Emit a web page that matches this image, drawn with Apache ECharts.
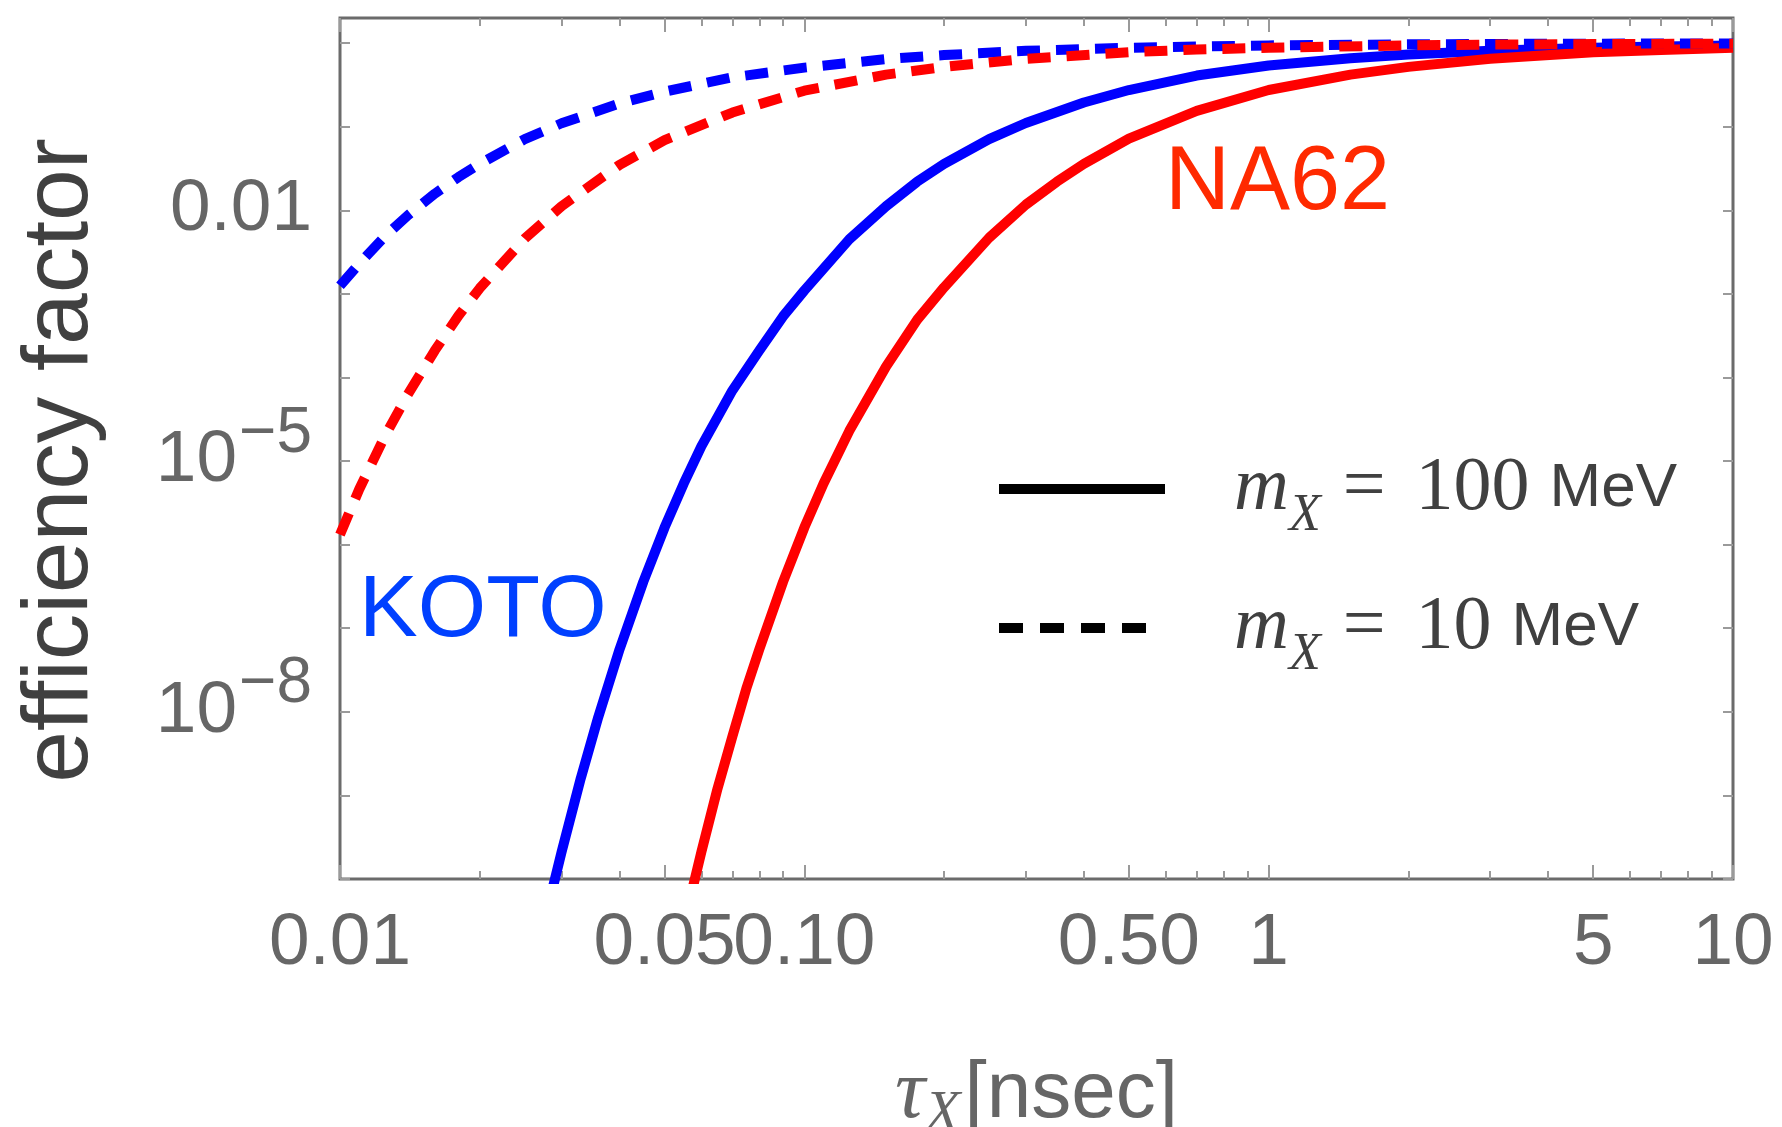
<!DOCTYPE html>
<html>
<head>
<meta charset="utf-8">
<script src="https://cdn.jsdelivr.net/npm/echarts@6/dist/echarts.min.js"></script>
<style>
  html, body { margin: 0; padding: 0; background: #ffffff; }
  #chart { width: 1782px; height: 1127px; }
</style>
</head>
<body>
<div id="chart"></div>
<script>
// Efficiency factor vs. lifetime tau_X (nsec), KOTO and NA62, for m_X = 100 MeV and 10 MeV.

// KOTO, m_X = 100 MeV (solid blue)
const tauKoto100 = [0.028, 0.03, 0.033, 0.036, 0.04, 0.045, 0.05, 0.055, 0.06, 0.07, 0.08, 0.09, 0.1, 0.125, 0.15, 0.175, 0.2, 0.25, 0.3, 0.4, 0.5, 0.7, 1, 1.5, 2, 3, 5, 7, 10];
const effKoto100 = [4.4e-11, 2.1e-10, 1.6e-9, 8.7e-9, 5.6e-8, 3.6e-7, 1.6e-6, 5.4e-6, 1.5e-5, 7.0e-5, 2.1e-4, 5.4e-4, 1.1e-3, 4.5e-3, 1.12e-2, 2.2e-2, 3.6e-2, 7.1e-2, 0.111, 0.195, 0.275, 0.41, 0.54, 0.66, 0.73, 0.81, 0.88, 0.91, 0.94];

// NA62, m_X = 100 MeV (solid red)
const tauNa62100 = [0.055, 0.06, 0.065, 0.07, 0.075, 0.08, 0.09, 0.1, 0.11, 0.125, 0.15, 0.175, 0.2, 0.25, 0.3, 0.35, 0.4, 0.5, 0.7, 1, 1.5, 2, 3, 5, 7, 10];
const effNa62100 = [2.8e-11, 2.1e-10, 1.2e-9, 5.1e-9, 1.9e-8, 5.6e-8, 3.6e-7, 1.6e-6, 5.4e-6, 2.3e-5, 1.35e-4, 4.9e-4, 1.2e-3, 4.7e-3, 1.17e-2, 2.2e-2, 3.6e-2, 7.2e-2, 0.155, 0.275, 0.42, 0.52, 0.65, 0.78, 0.83, 0.88];

// KOTO, m_X = 10 MeV (dashed blue)
const tauKoto10 = [0.01, 0.011, 0.0125, 0.014, 0.016, 0.018, 0.02, 0.025, 0.03, 0.04, 0.05, 0.07, 0.1, 0.15, 0.2, 0.3, 0.5, 0.7, 1, 2, 3, 5, 10];
const effKoto10 = [1.25e-3, 2.3e-3, 4.9e-3, 8.7e-3, 1.58e-2, 2.5e-2, 3.6e-2, 7.1e-2, 0.11, 0.19, 0.263, 0.39, 0.51, 0.645, 0.72, 0.81, 0.88, 0.91, 0.94, 0.968, 0.978, 0.986, 0.993];

// NA62, m_X = 10 MeV (dashed red)
const tauNa6210 = [0.01, 0.011, 0.0125, 0.014, 0.016, 0.018, 0.02, 0.025, 0.03, 0.04, 0.05, 0.07, 0.1, 0.15, 0.2, 0.3, 0.5, 0.7, 1, 2, 3, 5, 10];
const effNa6210 = [1.32e-6, 4.6e-6, 2.0e-5, 6.3e-5, 2.1e-4, 5.5e-4, 1.17e-3, 4.6e-3, 1.12e-2, 3.5e-2, 6.9e-2, 0.148, 0.27, 0.42, 0.52, 0.65, 0.78, 0.84, 0.88, 0.94, 0.96, 0.975, 0.987];

// Axis ticks and labels
const xMajorTicks = [0.01, 0.05, 0.1, 0.5, 1, 5, 10];
const xTickLabels = ['0.01', '0.05', '0.10', '0.50', '1', '5', '10'];
const xMinorTicks = [0.02, 0.03, 0.04, 0.06, 0.07, 0.08, 0.09, 0.2, 0.3, 0.4, 0.6, 0.7, 0.8, 0.9, 2, 3, 4, 6, 7, 8, 9];
const yTicks = [1e-10, 1e-9, 1e-8, 1e-7, 1e-6, 1e-5, 1e-4, 1e-3, 1e-2, 1e-1, 1];
const yLabelValues = [1e-8, 1e-5, 1e-2];

const SANS = '"Liberation Sans Narrow", "Liberation Sans", Arial, sans-serif';
const SERIF = '"Liberation Serif", "DejaVu Serif", serif';
const GREY = '#666666';
const TICK = '#9a9a9a';

const zip = (xs, ys) => xs.map((x, i) => [x, ys[i]]);

function xAxisBase(extra) {
  return Object.assign({
    type: 'log', logBase: 10, min: 0.01, max: 10, gridIndex: 0,
    axisLine: { show: false }, splitLine: { show: false },
    minorTick: { show: false }, minorSplitLine: { show: false },
    axisLabel: { show: false }
  }, extra);
}
function yAxisBase(extra) {
  return Object.assign({
    type: 'log', logBase: 10, min: 1e-10, max: 2, gridIndex: 0,
    axisLine: { show: false }, splitLine: { show: false },
    minorTick: { show: false }, minorSplitLine: { show: false },
    axisLabel: { show: false }
  }, extra);
}
const majorTick = { show: true, inside: true, length: 14, customValues: xMajorTicks, lineStyle: { color: TICK, width: 2 } };
const minorTickX = { show: true, inside: true, length: 8, customValues: xMinorTicks, lineStyle: { color: TICK, width: 2 } };
const yTick = { show: true, inside: true, length: 10, customValues: yTicks, lineStyle: { color: TICK, width: 2 } };

function xLabel(v) {
  let best = 0;
  xMajorTicks.forEach((t, i) => { if (Math.abs(Math.log10(t) - Math.log10(v)) < Math.abs(Math.log10(xMajorTicks[best]) - Math.log10(v))) best = i; });
  return xTickLabels[best];
}
function yLabel(v) {
  const e = Math.round(Math.log10(v));
  if (e === -2) return '0.01';
  return '{b|10}{s|\u2212' + (-e) + '}';
}

const lineSeries = (name, data, color, dashed) => ({
  name, type: 'line', data, xAxisIndex: 0, yAxisIndex: 0,
  showSymbol: false, symbol: 'none', smooth: false, clip: true,
  lineStyle: { color, width: 10, type: dashed ? [23, 16] : 'solid', cap: 'butt', join: 'round' },
  emphasis: { disabled: true }
});

const keyRich = {
  m: { fontFamily: SERIF, fontStyle: 'italic', fontSize: 76, lineHeight: 80, fill: '#404040', verticalAlign: 'middle' },
  x: { fontFamily: SERIF, fontStyle: 'italic', fontSize: 52, lineHeight: 52, fill: '#404040', verticalAlign: 'middle', padding: [54, 0, 0, 0] },
  o: { fontFamily: SERIF, fontSize: 76, lineHeight: 80, fill: '#404040', verticalAlign: 'middle', padding: [0, 0, 0, 22] },
  n: { fontFamily: SERIF, fontSize: 76, lineHeight: 80, fill: '#404040', verticalAlign: 'middle', padding: [0, 0, 0, 30] },
  u: { fontFamily: SANS, fontSize: 62, lineHeight: 80, fill: '#404040', verticalAlign: 'middle', padding: [0, 0, 0, 20] }
};

const chart = echarts.init(document.getElementById('chart'), null, { renderer: 'canvas' });
chart.setOption({
  animation: false,
  backgroundColor: '#ffffff',
  grid: {
    left: 340, right: 49, top: 18, bottom: 248,
    containLabel: false, outerBoundsMode: 'none',
    show: true, borderColor: '#6b6b6b', borderWidth: 3, backgroundColor: 'transparent'
  },
  xAxis: [
    xAxisBase({
      position: 'bottom',
      axisTick: majorTick,
      axisLabel: { show: true, customValues: xMajorTicks, formatter: xLabel, fontSize: 73, fontFamily: SANS, color: GREY, margin: 28 },
      name: '{t|\u03c4}{x|X}{b|[nsec]}',
      nameLocation: 'middle', nameGap: 176,
      nameTextStyle: {
        color: GREY,
        rich: {
          t: { fontFamily: SERIF, fontStyle: 'italic', fontSize: 84, lineHeight: 80, color: GREY, verticalAlign: 'middle' },
          x: { fontFamily: SERIF, fontStyle: 'italic', fontSize: 58, lineHeight: 56, color: GREY, verticalAlign: 'middle', padding: [40, 4, 0, 0] },
          b: { fontFamily: SANS, fontSize: 80, lineHeight: 80, color: GREY, verticalAlign: 'middle' }
        }
      }
    }),
    xAxisBase({ position: 'bottom', axisTick: minorTickX }),
    xAxisBase({ position: 'top', axisTick: majorTick }),
    xAxisBase({ position: 'top', axisTick: minorTickX })
  ],
  yAxis: [
    yAxisBase({
      position: 'left',
      axisTick: yTick,
      axisLabel: {
        show: true, customValues: yLabelValues, formatter: yLabel,
        fontSize: 73, fontFamily: SANS, color: GREY, margin: 28,
        rich: {
          b: { fontSize: 73, lineHeight: 76, fontFamily: SANS, color: GREY, verticalAlign: 'middle' },
          s: { fontSize: 64, lineHeight: 64, fontFamily: SANS, color: GREY, verticalAlign: 'middle', padding: [0, 0, 54, 2] }
        }
      },
      name: 'efficiency factor',
      nameLocation: 'middle', nameRotate: 90, nameGap: 232,
      nameTextStyle: { fontSize: 93, fontFamily: '"Liberation Sans", Arial, sans-serif', color: '#404040', padding: [0, 24, 0, 0] }
    }),
    yAxisBase({ position: 'right', axisTick: yTick })
  ],
  series: [
    lineSeries('KOTO, m_X = 100 MeV', zip(tauKoto100, effKoto100), '#0000ff', false),
    lineSeries('NA62, m_X = 100 MeV', zip(tauNa62100, effNa62100), '#ff0000', false),
    lineSeries('KOTO, m_X = 10 MeV', zip(tauKoto10, effKoto10), '#0000ff', true),
    lineSeries('NA62, m_X = 10 MeV', zip(tauNa6210, effNa6210), '#ff0000', true)
  ],
  graphic: [
    // experiment labels
    { type: 'text', x: 359, y: 612, style: { text: 'KOTO', fontSize: 88, fontFamily: '"Liberation Sans", Arial, sans-serif', fill: '#0040ff', align: 'left', verticalAlign: 'middle' } },
    { type: 'text', x: 1165, y: 184, style: { text: 'NA62', fontSize: 90, fontFamily: '"Liberation Sans", Arial, sans-serif', fill: '#ff2a00', align: 'left', verticalAlign: 'middle' } },
    // mass key
    { type: 'line', shape: { x1: 999, y1: 489, x2: 1165, y2: 489 }, style: { stroke: '#000000', lineWidth: 10 } },
    { type: 'line', shape: { x1: 999, y1: 628, x2: 1150, y2: 628 }, style: { stroke: '#000000', lineWidth: 10, lineDash: [24, 17] } },
    { type: 'text', x: 1234, y: 489, style: { text: '{m|m}{x|X}{o|=}{n|100}{u|MeV}', align: 'left', verticalAlign: 'middle', rich: keyRich } },
    { type: 'text', x: 1234, y: 628, style: { text: '{m|m}{x|X}{o|=}{n|10}{u|MeV}', align: 'left', verticalAlign: 'middle', rich: keyRich } }
  ]
});
</script>
</body>
</html>
